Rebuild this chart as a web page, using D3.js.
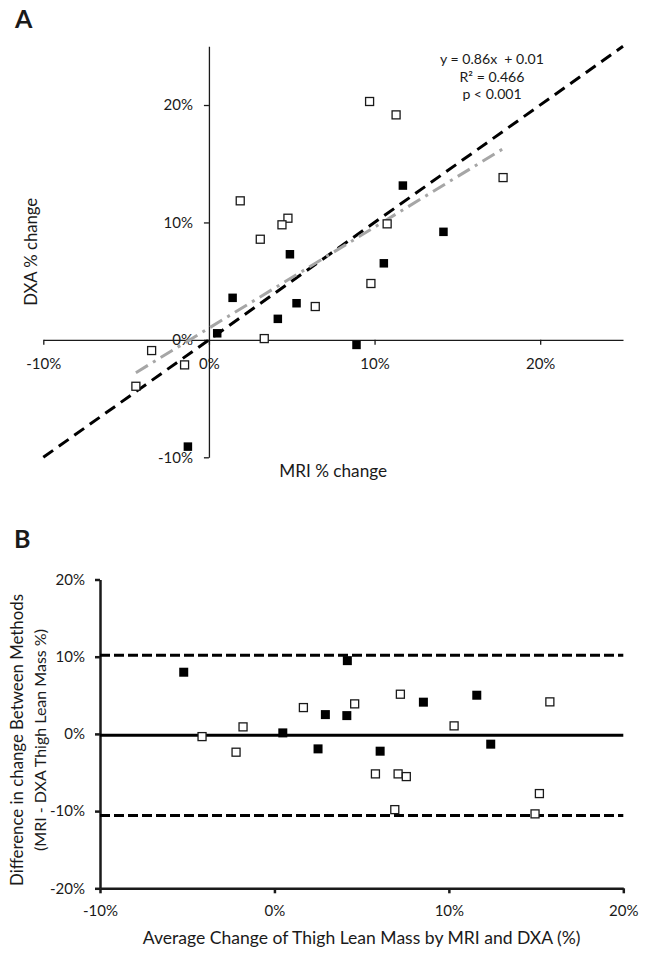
<!DOCTYPE html>
<html><head><meta charset="utf-8">
<script src="https://cdn.jsdelivr.net/npm/d3@7"></script>
<style>
body{margin:0;background:#fff;}
svg{display:block;}
text{font-family:Lato,"Open Sans",sans-serif;fill:#1a1a1a;}
</style>
</head><body>
<svg id="chart" width="646" height="961"></svg>
<script>
// ---------- Panel A data (% change) ----------
const mriOpen   = [1.89, 4.77, 4.41, 3.10, 9.70, 11.30, 17.76, 10.76, 6.42, 3.34, -3.46, -1.47, -4.41, 9.78];
const dxaOpen   = [11.84, 10.36, 9.80, 8.57, 20.30, 19.16, 13.82, 9.88, 2.84, 0.11, -0.91, -2.13, -3.95, 4.80];
const mriFilled = [4.89, 11.71, 14.16, 10.56, 1.43, 5.29, 4.16, 0.50, -1.27, 8.91];
const dxaFilled = [7.29, 13.14, 9.20, 6.52, 3.58, 3.12, 1.79, 0.56, -9.09, -0.43];
const regSlope = 0.86, regIntercept = 1.0;   // y = 0.86x + 0.01 (in % units)
const statsLines = ["y = 0.86x  + 0.01", "R² = 0.466", "p < 0.001"];
const ticksA = [-10, 0, 10, 20];
const domainA = [-10, 25];

// ---------- Panel B data (Bland-Altman, %) ----------
const avgOpen    = [1.66, 4.60, -1.80, -4.15, -2.20, 7.22, 15.79, 10.30, 5.79, 7.09, 7.56, 15.19, 6.90, 14.94];
const diffOpen   = [3.41, 3.89, 0.91, -0.35, -2.37, 5.14, 4.15, 1.04, -5.18, -5.18, -5.53, -7.73, -9.81, -10.36];
const avgFilled  = [-5.20, 4.18, 2.92, 4.15, 0.48, 2.50, 8.54, 11.60, 12.40, 6.06];
const diffFilled = [7.99, 9.49, 2.50, 2.37, 0.13, -1.94, 4.11, 5.01, -1.33, -2.24];
const meanDiff = -0.17, upperLoA = 10.19, lowerLoA = -10.58;
const ticksBx = [-10, 0, 10, 20];
const ticksBy = [-20, -10, 0, 10, 20];
const domainBx = [-10, 20], domainBy = [-20, 20];

const svg = d3.select("#chart");
const pct = d => d + "%";
const zip = (a, b) => a.map((v, i) => [v, b[i]]);

function fit(sel, width) {
  const n = sel.node();
  const fs = parseFloat(sel.attr("font-size"));
  const len = n.getComputedTextLength();
  sel.attr("font-size", (fs * width / len).toFixed(2));
}
function styleAxis(g, sw, fs) {
  g.attr("font-family", null).attr("font-size", null);
  g.selectAll(".domain").attr("stroke", "#1a1a1a").attr("stroke-width", sw);
  g.selectAll(".tick line").attr("stroke", "#1a1a1a").attr("stroke-width", sw);
  g.selectAll(".tick text").attr("font-size", fs).attr("fill", "#1a1a1a");
}
function squares(g, pts, x, y, size, filled) {
  g.selectAll(null).data(pts).enter().append("rect")
    .attr("x", d => x(d[0]) - size / 2).attr("y", d => y(d[1]) - size / 2)
    .attr("width", size).attr("height", size)
    .attr("fill", filled ? "#000" : "#fff")
    .attr("stroke", filled ? "none" : "#1a1a1a")
    .attr("stroke-width", filled ? 0 : 1.3);
}

// ================= Panel A =================
const xA = d3.scaleLinear().domain(domainA).range([43.3, 623]);
const yA = d3.scaleLinear().domain(domainA).range([457.3, 46.3]);
const gA = svg.append("g");

const yAx = gA.append("g").attr("transform", `translate(${xA(0)},0)`)
  .call(d3.axisLeft(yA).tickValues(ticksA).tickFormat(pct).tickSize(5).tickSizeOuter(0).tickPadding(11));
styleAxis(yAx, 1.3, 15);
const xAx = gA.append("g").attr("transform", `translate(0,${yA(0)})`)
  .call(d3.axisBottom(xA).tickValues(ticksA).tickFormat(pct).tickSize(5).tickSizeOuter(0).tickPadding(13));
styleAxis(xAx, 1.3, 15);

// identity (dashed black) line
const line = d3.line().x(d => xA(d[0])).y(d => yA(d[1]));
gA.append("path").datum([[domainA[0], domainA[0]], [domainA[1], domainA[1]]])
  .attr("d", line).attr("fill", "none").attr("stroke", "#000")
  .attr("stroke-width", 3).attr("stroke-dasharray", "12,7");
// regression (grey dash-dot) line across data range
const allMri = mriOpen.concat(mriFilled);
const xr = d3.extent(allMri);
gA.append("path").datum(xr.map(v => [v, regSlope * v + regIntercept]))
  .attr("d", line).attr("fill", "none").attr("stroke", "#a6a6a6")
  .attr("stroke-width", 3).attr("stroke-dasharray", "14,6,3,6");

squares(gA, zip(mriOpen, dxaOpen), xA, yA, 8, false);
squares(gA, zip(mriFilled, dxaFilled), xA, yA, 8.5, true);

gA.append("text").attr("x", 15).attr("y", 28).attr("font-size", 25).attr("font-weight", 700).text("A");
const stats = gA.selectAll(null).data(statsLines).enter().append("text")
  .attr("x", 492).attr("y", (d, i) => 64 + i * 17.5)
  .attr("text-anchor", "middle").attr("font-size", 14)
  .style("white-space", "pre").text(d => d);
const s0 = stats.filter((d, i) => i === 0).node().getComputedTextLength();
stats.attr("font-size", (14 * 104 / s0).toFixed(2));

const tA1 = gA.append("text").attr("x", (xA.range()[0] + xA.range()[1]) / 2).attr("y", 477)
  .attr("text-anchor", "middle").attr("font-size", 15).text("MRI % change");
fit(tA1, 108);
const tA2 = gA.append("text").attr("transform", `translate(37,${(yA.range()[0] + yA.range()[1]) / 2}) rotate(-90)`)
  .attr("text-anchor", "middle").attr("font-size", 15).text("DXA % change");
fit(tA2, 108);

// ================= Panel B =================
const xB = d3.scaleLinear().domain(domainBx).range([100, 623.3]);
const yB = d3.scaleLinear().domain(domainBy).range([888.3, 579.5]);
const gB = svg.append("g");

const yBx = gB.append("g").attr("transform", `translate(${xB(domainBx[0])},0)`)
  .call(d3.axisLeft(yB).tickValues(ticksBy).tickFormat(pct).tickSize(5).tickSizeOuter(0).tickPadding(10));
styleAxis(yBx, 2.5, 15);
const xBx = gB.append("g").attr("transform", `translate(0,${yB(domainBy[0])})`)
  .call(d3.axisBottom(xB).tickValues(ticksBx).tickFormat(pct).tickSize(5).tickSizeOuter(0).tickPadding(12));
styleAxis(xBx, 2.5, 15);

[[upperLoA, "10,4"], [lowerLoA, "10,4"], [meanDiff, null]].forEach(([v, dash]) => {
  gB.append("line").attr("x1", xB(domainBx[0])).attr("x2", xB(domainBx[1]))
    .attr("y1", yB(v)).attr("y2", yB(v))
    .attr("stroke", "#000").attr("stroke-width", 3)
    .attr("stroke-dasharray", dash);
});

squares(gB, zip(avgOpen, diffOpen), xB, yB, 8, false);
squares(gB, zip(avgFilled, diffFilled), xB, yB, 9, true);

gB.append("text").attr("x", 14).attr("y", 548).attr("font-size", 25).attr("font-weight", 700).text("B");

const yMidB = 740;
const tB1 = gB.append("text").attr("transform", `translate(23,${yMidB}) rotate(-90)`)
  .attr("text-anchor", "middle").attr("font-size", 16).text("Difference in change Between Methods");
fit(tB1, 292);
const tB2 = gB.append("text").attr("transform", `translate(46,${yMidB}) rotate(-90)`)
  .attr("text-anchor", "middle").attr("font-size", 16).text("(MRI - DXA Thigh Lean Mass %)");
fit(tB2, 222);
const tB3 = gB.append("text").attr("x", (xB.range()[0] + xB.range()[1]) / 2).attr("y", 944)
  .attr("text-anchor", "middle").attr("font-size", 16).text("Average Change of Thigh Lean Mass by MRI and DXA (%)");
fit(tB3, 438);
</script>
</body></html>
